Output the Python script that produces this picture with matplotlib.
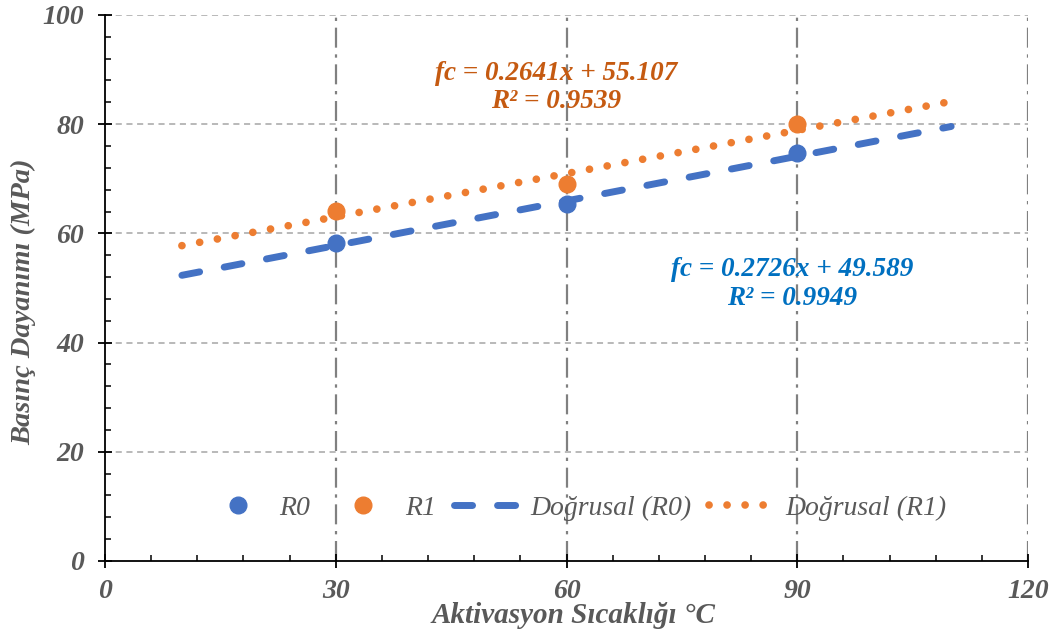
import numpy as np
import matplotlib.pyplot as plt
from matplotlib.ticker import MultipleLocator

# -----------------------------
# DATA
# -----------------------------
temps = [30, 60, 90]
r0_vals = [58.2, 65.3, 74.7]
r1_vals = [64.1, 69.0, 80.0]

# trend line coefficients (slope, intercept) as printed on the chart
r0_fit = (0.2726, 49.589)
r1_fit = (0.2641, 55.107)
trend_x = [10, 110]

r0_eq = "fc = 0.2726x + 49.589\nR² = 0.9949"
r1_eq = "fc = 0.2641x + 55.107\nR² = 0.9539"

xlabel = "Aktivasyon Sıcaklığı °C"
ylabel = "Basınç Dayanımı (MPa)"

# -----------------------------
# STYLE
# -----------------------------
plt.rcParams['font.family'] = ['Liberation Serif', 'DejaVu Serif']
blue = '#4472C4'
orange = '#ED7D31'
gray_txt = '#595959'

fig = plt.figure(figsize=(10.55, 6.36), dpi=100)
ax = fig.add_axes([0.0995, 0.118, 0.875, 0.8585])

# grid
for y in [20, 40, 60, 80, 100]:
    ax.axhline(y, color='#A6A6A6', lw=1.1, ls=(0, (4, 3)), zorder=1)
for x in [30, 60, 90, 120]:
    ax.axvline(x, color='#808080', lw=1.6, ls=(0, (9, 3, 1.5, 3)), zorder=1)

# trend lines
tx = np.array(trend_x, dtype=float)
l0, = ax.plot(tx, r0_fit[0] * tx + r0_fit[1], color=blue, lw=5,
              ls=(0, (2.6, 3.6)), dash_capstyle='round', zorder=3,
              label='Doğrusal (R0)')
l1, = ax.plot(tx, r1_fit[0] * tx + r1_fit[1], color=orange, lw=5.5,
              ls=(0, (0.01, 2.35)), dash_capstyle='round', zorder=3,
              label='Doğrusal (R1)')

# points
p0, = ax.plot(temps, r0_vals, 'o', color=blue, ms=12, zorder=4, label='R0')
p1, = ax.plot(temps, r1_vals, 'o', color=orange, ms=12, zorder=4, label='R1')

# equations
ax.text(58.6, 86.7, r1_eq, color='#C55A11', fontsize=19.5, fontweight='bold',
        fontstyle='italic', ha='center', va='center', linespacing=1.2)
ax.text(89.3, 50.7, r0_eq, color='#0070C0', fontsize=19.5, fontweight='bold',
        fontstyle='italic', ha='center', va='center', linespacing=1.2)

# axes
ax.set_xlim(0, 120)
ax.set_ylim(0, 100)
ax.xaxis.set_major_locator(MultipleLocator(30))
ax.xaxis.set_minor_locator(MultipleLocator(6))
ax.yaxis.set_major_locator(MultipleLocator(20))
ax.yaxis.set_minor_locator(MultipleLocator(4))
for s in ['top', 'right']:
    ax.spines[s].set_visible(False)
for s in ['left', 'bottom']:
    ax.spines[s].set_linewidth(1.3)
ax.tick_params(axis='both', which='major', direction='inout', length=10,
               width=1.3, labelsize=20, labelcolor=gray_txt)
ax.tick_params(axis='both', which='minor', direction='in', length=4.5, width=1.1)
ax.tick_params(axis='y', which='major', pad=10)
ax.tick_params(axis='x', which='major', pad=8)
for lab in ax.get_xticklabels() + ax.get_yticklabels():
    lab.set_fontweight('bold')
    lab.set_fontstyle('italic')

ax.set_xlabel(xlabel, fontsize=21, fontweight='bold', fontstyle='italic',
              color=gray_txt, va='center')
ax.xaxis.set_label_coords(0.508, -0.1)
ax.set_ylabel(ylabel, fontsize=20.5, fontweight='bold', fontstyle='italic',
              color=gray_txt, va='center')
ax.yaxis.set_label_coords(-0.088, 0.475)

leg = ax.legend(handles=[p0, p1, l0, l1], ncol=4, loc='center',
                bbox_to_anchor=(0.509, 0.097), frameon=False,
                prop={'size': 20, 'style': 'italic'}, labelcolor=gray_txt,
                handlelength=2.5, columnspacing=0.65, handletextpad=0.25)

fig.savefig('out.png', dpi=100)
